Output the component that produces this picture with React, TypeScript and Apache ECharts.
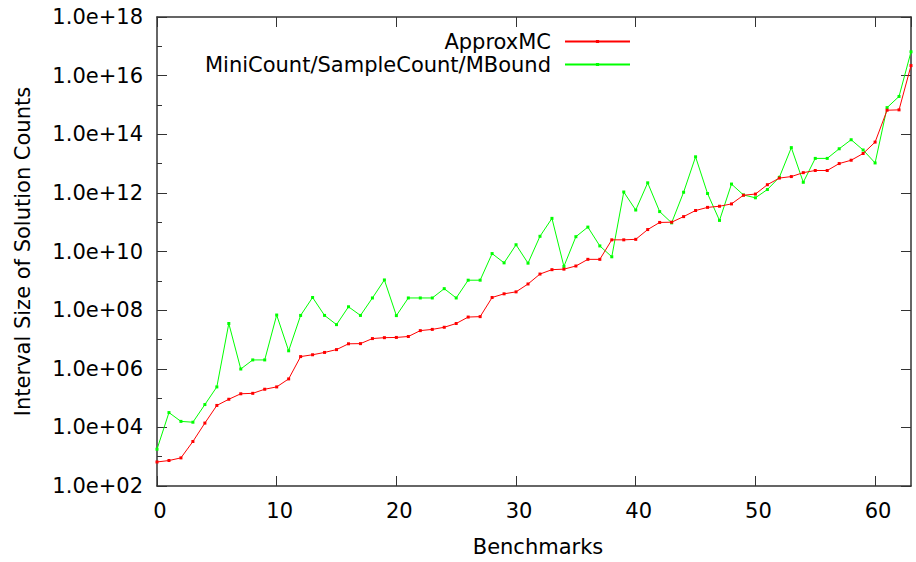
import React, { useEffect, useRef } from "react";
import * as echarts from "echarts";

const benchmarks: number[] = Array.from({ length: 64 }, (_, i) => i);

const approxMC: number[] = [
  6.6e2, 7.4e2, 9.1e2, 3.3e3, 1.4e4, 5.6e4, 9.1e4, 1.4e5, 1.45e5, 2.0e5,
  2.4e5, 4.5e5, 2.6e6, 3.0e6, 3.6e6, 4.5e6, 7.1e6, 7.2e6, 1.07e7, 1.15e7,
  1.17e7, 1.26e7, 2.0e7, 2.2e7, 2.6e7, 3.5e7, 5.8e7, 6.0e7, 2.7e8, 3.6e8,
  4.2e8, 7.8e8, 1.7e9, 2.4e9, 2.5e9, 3.2e9, 5.4e9, 5.4e9, 2.5e10, 2.5e10,
  2.6e10, 5.6e10, 9.8e10, 1.0e11, 1.55e11, 2.5e11, 3.2e11, 3.5e11, 4.2e11, 8.3e11,
  9.1e11, 1.9e12, 3.2e12, 3.6e12, 4.9e12, 5.8e12, 5.8e12, 1.0e13, 1.3e13, 2.2e13,
  5.4e13, 6.6e14, 6.8e14, 2.2e16,
];

const miniCount: number[] = [
  1.8e3, 3.2e4, 1.6e4, 1.5e4, 6.0e4, 2.4e5, 3.5e7, 9.8e5, 2.0e6, 2.0e6,
  6.8e7, 4.1e6, 6.6e7, 2.7e8, 6.6e7, 3.2e7, 1.3e8, 6.6e7, 2.6e8, 1.07e9,
  6.5e7, 2.6e8, 2.6e8, 2.6e8, 5.4e8, 2.6e8, 1.05e9, 1.05e9, 8.5e9, 4.1e9,
  1.7e10, 4.0e9, 3.3e10, 1.35e11, 3.1e9, 3.2e10, 6.8e10, 1.55e10, 6.6e9, 1.07e12,
  2.6e11, 2.2e12, 2.3e11, 9.5e10, 1.05e12, 1.7e13, 9.5e11, 1.15e11, 2.0e12, 8.5e11,
  6.8e11, 1.3e12, 3.4e12, 3.5e13, 2.3e12, 1.5e13, 1.5e13, 3.2e13, 6.5e13, 2.9e13,
  1.05e13, 8.1e14, 1.95e15, 6.5e16,
];

const seriesNames: string[] = ["ApproxMC", "MiniCount/SampleCount/MBound"];
const seriesColors: string[] = ["#ff0000", "#00ff00"];

const FONT = "DejaVu Sans";
const AXIS_COLOR = "#333333";

function fmtExp(v: number): string {
  const e = Math.round(Math.log10(v));
  const s = (e < 10 ? "0" : "") + String(e);
  return "1.0e+" + s;
}

export default function App() {
  const ref = useRef<HTMLDivElement>(null);

  useEffect(() => {
    if (!ref.current) return;
    const chart = echarts.init(ref.current, undefined, { renderer: "svg" });

    const logAxisBase = {
      type: "log" as const,
      logBase: 10,
      min: 1e2,
      max: 1e18,
      splitLine: { show: false },
    };

    chart.setOption({
      animation: false,
      backgroundColor: "#ffffff",
      textStyle: { fontFamily: FONT },
      grid: { left: 157, right: 5, top: 17, bottom: 75, containLabel: false },
      legend: {
        data: seriesNames,
        orient: "vertical",
        align: "right",
        right: 280,
        top: 26,
        itemWidth: 65,
        itemHeight: 4,
        itemGap: 2,
        textStyle: {
          fontFamily: FONT,
          fontSize: 21,
          color: "#000",
          padding: [0, 9, 0, 0],
        },
      },
      xAxis: [
        {
          type: "value",
          min: 0,
          max: 63,
          interval: 10,
          name: "Benchmarks",
          nameLocation: "middle",
          nameGap: 50,
          nameTextStyle: { fontFamily: FONT, fontSize: 21, color: "#000", padding: [0, 0, 0, 8] },
          axisLine: { show: true, lineStyle: { color: AXIS_COLOR, width: 1.5 } },
          axisTick: { show: true, inside: true, length: 10, lineStyle: { color: AXIS_COLOR, width: 1 } },
          axisLabel: {
            fontFamily: FONT,
            fontSize: 21,
            color: "#000",
            margin: 14,
            showMaxLabel: false,
            padding: [0, 0, 0, 6],
          },
          splitLine: { show: false },
        },
        {
          type: "value",
          position: "top",
          min: 0,
          max: 63,
          interval: 10,
          axisLine: { show: true, lineStyle: { color: AXIS_COLOR, width: 1.5 } },
          axisTick: { show: true, inside: true, length: 10, lineStyle: { color: AXIS_COLOR, width: 1 } },
          axisLabel: { show: false },
          splitLine: { show: false },
        },
      ],
      yAxis: [
        {
          ...logAxisBase,
          position: "left",
          interval: 2,
          name: "Interval Size of Solution Counts",
          nameLocation: "middle",
          nameGap: 124,
          nameTextStyle: { fontFamily: FONT, fontSize: 21, color: "#000" },
          axisLine: { show: true, lineStyle: { color: AXIS_COLOR, width: 1.5 } },
          axisTick: { show: true, inside: true, length: 10, lineStyle: { color: AXIS_COLOR, width: 1 } },
          axisLabel: {
            fontFamily: FONT,
            fontSize: 21,
            color: "#000",
            margin: 14,
            formatter: (v: number) => fmtExp(v),
          },
        },
        {
          ...logAxisBase,
          position: "left",
          interval: 1,
          axisLine: { show: false },
          axisTick: { show: true, inside: true, length: 5, lineStyle: { color: AXIS_COLOR, width: 1 } },
          axisLabel: { show: false },
        },
        {
          ...logAxisBase,
          position: "right",
          interval: 2,
          axisLine: { show: true, lineStyle: { color: AXIS_COLOR, width: 1.5 } },
          axisTick: { show: true, inside: true, length: 10, lineStyle: { color: AXIS_COLOR, width: 1 } },
          axisLabel: { show: false },
        },
      ],
      series: [
        {
          name: seriesNames[0],
          type: "line",
          xAxisIndex: 0,
          yAxisIndex: 0,
          data: benchmarks.map((b, i) => [b, approxMC[i]]),
          symbol: "rect",
          symbolSize: 3,
          showSymbol: true,
          color: seriesColors[0],
          lineStyle: { width: 1, color: seriesColors[0] },
          itemStyle: { color: seriesColors[0] },
          z: 3,
        },
        {
          name: seriesNames[1],
          type: "line",
          xAxisIndex: 0,
          yAxisIndex: 0,
          data: benchmarks.map((b, i) => [b, miniCount[i]]),
          symbol: "rect",
          symbolSize: 3,
          showSymbol: true,
          color: seriesColors[1],
          lineStyle: { width: 1, color: seriesColors[1] },
          itemStyle: { color: seriesColors[1] },
          z: 2,
        },
      ],
    });

    return () => chart.dispose();
  }, []);

  return <div ref={ref} style={{ width: 916, height: 562, position: "fixed", left: 0, top: 0 }} />;
}
